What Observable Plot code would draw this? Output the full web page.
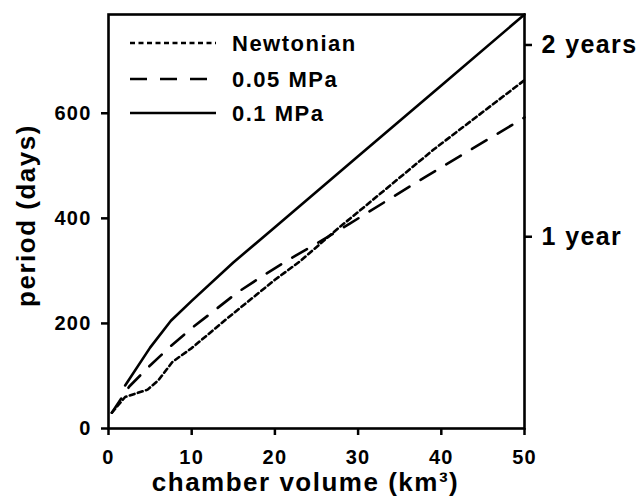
<!DOCTYPE html>
<html>
<head>
<meta charset="utf-8">
<script src="https://cdn.jsdelivr.net/npm/d3@7"></script>
<script src="https://cdn.jsdelivr.net/npm/@observablehq/plot@0.6"></script>
<style>
  body { margin: 0; background: white; }
  #wrap { position: relative; width: 637px; height: 498px; }
  #legend { position: absolute; left: 0; top: 0; pointer-events: none; }
</style>
</head>
<body>
<div id="wrap"></div>
<script>
// ---- data ----
const seriesNames = ["Newtonian", "0.05 MPa", "0.1 MPa"];

const newtX = [0.4, 2, 4.7, 6, 7.7, 10, 14.3, 20, 23, 27.6, 30, 39, 50];
const newtY = [30, 60, 74, 92, 127, 153, 210, 283, 318, 381, 412, 530, 663];

const mpa005X = [0.4, 2.5, 5, 7.5, 10, 13, 15.5, 18.6, 21.5, 25, 29, 38, 50];
const mpa005Y = [30, 80, 120, 157, 191, 228, 259, 291, 320, 352, 390, 478, 592];

const mpa01X = [2, 5, 7.5, 10, 15, 20, 30, 40, 50];
const mpa01Y = [82, 154, 205, 243, 316, 383, 518, 653, 788];

const xTicks = [0, 10, 20, 30, 40, 50];
const yTicks = [0, 200, 400, 600];
const rightTicks = [365, 730];
const rightLabels = ["1 year", "2 years"];

const xLabel = "chamber volume (km³)";
const yLabel = "period (days)";

// ---- build ----
const toRows = (xs, ys) => xs.map((x, i) => ({x, y: ys[i]}));
const newt = toRows(newtX, newtY);
const m005 = toRows(mpa005X, mpa005Y);
const m01 = toRows(mpa01X, mpa01Y);

const dashes = ["5,3.5", "17,13", null];
const FONT = "'Liberation Sans', Arial, Helvetica, sans-serif";

const chart = Plot.plot({
  width: 637,
  height: 498,
  marginLeft: 108,
  marginRight: 113,
  marginTop: 14,
  marginBottom: 70,
  x: {domain: [0, 50]},
  y: {domain: [0, 788]},
  style: {fontFamily: FONT, fontWeight: "bold", background: "white", color: "black", overflow: "visible"},
  marks: [
    Plot.axisX({ticks: xTicks, tickSize: 7, tickPadding: 14, fontSize: 20, label: null, strokeWidth: 2.5}),
    Plot.axisY({ticks: yTicks, tickSize: 7, tickPadding: 10, fontSize: 20, label: null, strokeWidth: 2.5}),
    Plot.axisY({anchor: "right", ticks: rightTicks, tickFormat: d => rightLabels[rightTicks.indexOf(d)],
                tickSize: 7, tickPadding: 10, fontSize: 25, label: null, strokeWidth: 2.5}),
    Plot.line(newt, {x: "x", y: "y", stroke: "black", strokeWidth: 2.6, strokeDasharray: dashes[0]}),
    Plot.line(m005, {x: "x", y: "y", stroke: "black", strokeWidth: 2.6, strokeDasharray: dashes[1]}),
    Plot.line(m01, {x: "x", y: "y", stroke: "black", strokeWidth: 2.6}),
    Plot.frame({stroke: "black", strokeWidth: 2.6}),
    Plot.text([xLabel], {text: d => d, frameAnchor: "bottom", textAnchor: "middle", lineAnchor: "middle",
                         dx: -11, dy: 54, fontSize: 26, fontWeight: "bold"}),
    Plot.text([yLabel], {text: d => d, frameAnchor: "left", textAnchor: "middle", lineAnchor: "middle",
                         rotate: -90, dx: -82, dy: -6, fontSize: 26, fontWeight: "bold"})
  ]
});

const wrap = document.getElementById("wrap");
wrap.appendChild(chart);

// legend overlay
const ns = "http://www.w3.org/2000/svg";
const lg = document.createElementNS(ns, "svg");
lg.setAttribute("id", "legend");
lg.setAttribute("width", 637);
lg.setAttribute("height", 498);
const legendY = [43, 79, 113];
seriesNames.forEach((name, i) => {
  const ln = document.createElementNS(ns, "line");
  ln.setAttribute("x1", 130); ln.setAttribute("x2", 216);
  ln.setAttribute("y1", legendY[i]); ln.setAttribute("y2", legendY[i]);
  ln.setAttribute("stroke", "black"); ln.setAttribute("stroke-width", 2.6);
  if (dashes[i]) ln.setAttribute("stroke-dasharray", dashes[i]);
  lg.appendChild(ln);
  const t = document.createElementNS(ns, "text");
  t.setAttribute("x", 232); t.setAttribute("y", legendY[i] + 8);
  t.setAttribute("font-family", FONT); t.setAttribute("font-weight", "bold");
  t.setAttribute("font-size", 22);
  t.textContent = name;
  lg.appendChild(t);
});
wrap.appendChild(lg);

// letter spacing to match the slightly wide lettering of the original
const spacing = {20: "1.2px", 22: "1.5px", 25: "1.4px", 26: "1.5px"};
wrap.querySelectorAll("text").forEach(t => {
  const fs = Math.round(parseFloat(getComputedStyle(t).fontSize));
  if (spacing[fs]) t.style.letterSpacing = spacing[fs];
});
</script>
</body>
</html>
